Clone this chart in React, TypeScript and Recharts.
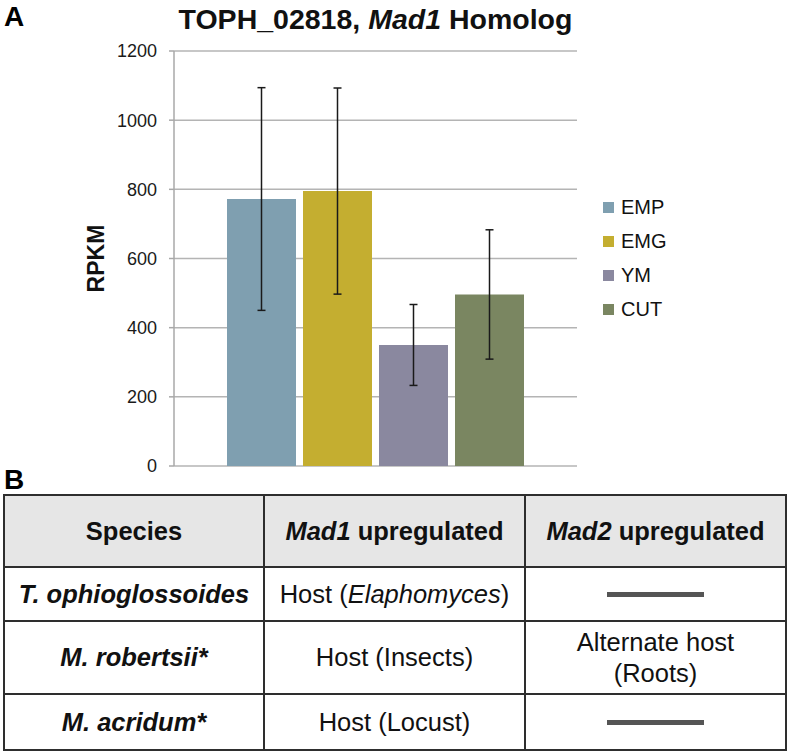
import { BarChart, Bar, XAxis, YAxis, CartesianGrid, ErrorBar, Label } from 'recharts';

const categories = ['TOPH_02818'];
const series = ['EMP', 'EMG', 'YM', 'CUT'];
const rpkm = [772, 795, 350, 496];
const rpkmError = [322, 298, 117, 187];
const yTicks = [0, 200, 400, 600, 800, 1000, 1200];

const colors = ['#7f9fb0', '#c4ae30', '#8a889f', '#7a8661'];

// panel B
const tableHeaders = ['Species', 'Mad1', 'Mad2'];
const species = ['T. ophioglossoides', 'M. robertsii*', 'M. acridum*'];
const mad1Hosts = [['Host (', 'Elaphomyces', ')'], ['Host (Insects)'], ['Host (Locust)']];
const mad2Hosts = [null, ['Alternate host', '(Roots)'], null];
const rowHeights = [54, 73, 56];

const chartData = categories.map((name) => {
    const row: any = { name };
    series.forEach((s, i) => {
        row[s] = rpkm[i];
        row[s + '_err'] = rpkmError[i];
    });
    return row;
});

const FONT = '"Liberation Sans", Arial, Helvetica, sans-serif';
const border = '2px solid #2e2e2e';

// legend sits to the right of the plot, like the Excel original
const LegendBox = () => (
    <div style={{ position: 'absolute', left: 603, top: 190 }}>
        {series.map((s, i) => (
            <div key={s} style={{ display: 'flex', alignItems: 'center', height: 34 }}>
                <span style={{ display: 'inline-block', width: 11, height: 11, background: colors[i], marginRight: 7 }} />
                <span style={{ fontSize: 20, color: '#111', fontFamily: FONT }}>{s}</span>
            </div>
        ))}
    </div>
);

const Dash = () => (
    <div style={{ width: 97, height: 5, background: '#555', margin: '0 auto' }} />
);

export default function App() {
    const cell: React.CSSProperties = {
        border,
        padding: 0,
        textAlign: 'center',
        verticalAlign: 'middle',
        fontSize: 25.5,
        color: '#111',
    };

    return (
        <div style={{ position: 'absolute', left: 0, top: 0, width: 789, height: 753, background: '#fff', fontFamily: FONT }}>
            <div style={{ position: 'absolute', left: 4, top: 3, fontSize: 28, lineHeight: '28px', fontWeight: 'bold' }}>A</div>
            <div
                style={{
                    position: 'absolute', left: 0, top: 5, width: 751, textAlign: 'center',
                    fontSize: 28.5, lineHeight: '28px', fontWeight: 'bold', color: '#111',
                }}
            >
                TOPH_02818, <i>Mad1</i> Homolog
            </div>

            <BarChart
                width={789}
                height={480}
                data={chartData}
                margin={{ top: 51, right: 212, left: 0, bottom: 14 }}
                barCategoryGap={53}
                barGap={7}
                style={{ fontFamily: FONT }}
            >
                <CartesianGrid vertical={false} stroke="#b4b4b4" strokeWidth={1.5} />
                <XAxis dataKey="name" hide />
                <YAxis
                    width={174}
                    domain={[0, 1200]}
                    ticks={yTicks}
                    interval={0}
                    tickSize={5}
                    tickMargin={12}
                    axisLine={{ stroke: '#a8a8a8', strokeWidth: 1.5 }}
                    tickLine={{ stroke: '#a8a8a8', strokeWidth: 1.5 }}
                    tick={{ fill: '#1a1a1a', fontSize: 18 }}
                >
                    <Label
                        value="RPKM"
                        angle={-90}
                        position="center"
                        dx={9}
                        style={{ fontSize: 23, fontWeight: 'bold', fill: '#111' }}
                    />
                </YAxis>
                {series.map((s, i) => (
                    <Bar key={s} dataKey={s} fill={colors[i]} isAnimationActive={false}>
                        <ErrorBar dataKey={s + '_err'} width={4} stroke="#1a1a1a" strokeWidth={1.5} direction="y" />
                    </Bar>
                ))}
            </BarChart>
            <LegendBox />

            <div style={{ position: 'absolute', left: 4, top: 466, fontSize: 28, lineHeight: '28px', fontWeight: 'bold' }}>B</div>
            <table
                style={{
                    position: 'absolute', left: 3, top: 494, width: 782, height: 255,
                    borderCollapse: 'collapse', tableLayout: 'fixed', fontFamily: FONT,
                }}
            >
                <colgroup>
                    <col style={{ width: 260 }} />
                    <col style={{ width: 261 }} />
                    <col style={{ width: 261 }} />
                </colgroup>
                <tbody>
                    <tr style={{ height: 72, background: '#e6e6e6' }}>
                        <td style={{ ...cell, fontWeight: 'bold' }}>{tableHeaders[0]}</td>
                        <td style={{ ...cell, fontWeight: 'bold' }}><i>{tableHeaders[1]}</i> upregulated</td>
                        <td style={{ ...cell, fontWeight: 'bold' }}><i>{tableHeaders[2]}</i> upregulated</td>
                    </tr>
                    {species.map((sp, r) => (
                        <tr key={sp} style={{ height: rowHeights[r] }}>
                            <td style={{ ...cell, fontWeight: 'bold', fontStyle: 'italic' }}>{sp}</td>
                            <td style={cell}>
                                {mad1Hosts[r].length === 3 ? (
                                    <>
                                        {mad1Hosts[r][0]}<i>{mad1Hosts[r][1]}</i>{mad1Hosts[r][2]}
                                    </>
                                ) : (
                                    mad1Hosts[r][0]
                                )}
                            </td>
                            <td style={{ ...cell, lineHeight: '31px' }}>
                                {mad2Hosts[r] ? (
                                    mad2Hosts[r]!.map((t) => <div key={t}>{t}</div>)
                                ) : (
                                    <Dash />
                                )}
                            </td>
                        </tr>
                    ))}
                </tbody>
            </table>
        </div>
    );
}
